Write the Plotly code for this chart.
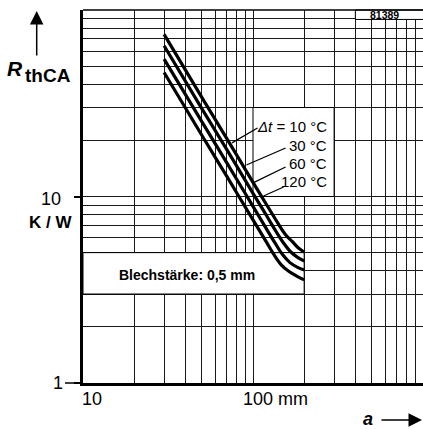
import math
import plotly.graph_objects as go

# ---------------- data ----------------
a_dt10 = [30, 50, 70, 100, 120, 140, 155, 170, 185, 200]
r_dt10 = [74.0, 34.0, 20.5, 11.9, 9.06, 7.2, 6.26, 5.74, 5.29, 5.04]
a_dt30 = [30, 50, 70, 100, 120, 137, 152, 167, 184, 200]
r_dt30 = [64.3, 29.6, 17.9, 10.4, 7.91, 6.47, 5.60, 5.04, 4.70, 4.51]
a_dt60 = [30, 50, 70, 100, 120, 135, 150, 165, 183, 200]
r_dt60 = [54.5, 25.2, 15.2, 8.85, 6.71, 5.62, 4.85, 4.42, 4.17, 4.04]
a_dt120 = [30, 50, 70, 100, 120, 132, 147, 163, 183, 200]
r_dt120 = [46.2, 21.3, 12.85, 7.50, 5.69, 4.92, 4.29, 3.96, 3.72, 3.57]

curve_labels = ["<i>Δt</i> = 10 °C", "30 °C", "60 °C", "120 °C"]

# leader lines (label end -> curve end), data coordinates
leader_x = [[106.3, 75.2], [155.5, 91.5], [155.5, 101.4], [151.4, 115.3]]
leader_y = [[23.3, 19.4], [18.2, 14.75], [14.4, 11.9], [11.24, 10.06]]

# white label boxes (data coordinates)
label_box_x = [100, 300]
label_box_y = [10, 30]
note_box_x = [10, 200]
note_box_y = [3, 5]
id_box_x = [400, 1000]
id_box_y = [89, 100]

x_major = [10, 100]
x_minor = [20, 30, 40, 50, 60, 70, 80, 90, 200, 300, 400, 500, 600, 700, 800, 900, 1000]
y_major = [1, 10]
y_minor = [2, 3, 4, 5, 6, 7, 8, 9, 20, 30, 40, 50, 60, 70, 80, 90, 100]

note_text = "Blechstärke: 0,5 mm"
id_text = "81389"

X_RANGE = [1, 3]
Y_RANGE = [0, 2]

# ---------------- layout helpers ----------------
W, H = 423, 429
ML, MR, MT, MB = 83, 0, 10, 46
PW, PH = W - ML - MR, H - MT - MB
FONT = "Liberation Sans, Arial, Helvetica, sans-serif"


def px(x):
    return (x - ML) / PW


def py(y):
    return (H - MB - y) / PH


def xpaper(v):
    return (math.log10(v) - X_RANGE[0]) / (X_RANGE[1] - X_RANGE[0])


def ypaper(v):
    return (math.log10(v) - Y_RANGE[0]) / (Y_RANGE[1] - Y_RANGE[0])


def box(xs, ys):
    return [xs[0], xs[1], xs[1], xs[0], xs[0]], [ys[0], ys[0], ys[1], ys[1], ys[0]]


fig = go.Figure()

for bx, by in [(label_box_x, label_box_y), (note_box_x, note_box_y)]:
    xx, yy = box(bx, by)
    fig.add_trace(go.Scatter(x=xx, y=yy, mode="lines", fill="toself", fillcolor="white",
                             line=dict(color="black", width=1), hoverinfo="skip", showlegend=False))

for a, r in [(a_dt10, r_dt10), (a_dt30, r_dt30), (a_dt60, r_dt60), (a_dt120, r_dt120)]:
    fig.add_trace(go.Scatter(x=a, y=r, mode="lines", line=dict(color="black", width=3.2, shape="spline"),
                             showlegend=False))

for lx, ly in zip(leader_x, leader_y):
    fig.add_trace(go.Scatter(x=lx, y=ly, mode="lines", line=dict(color="black", width=1.3),
                             showlegend=False, hoverinfo="skip"))

grid = "#1a1a1a"
fig.update_layout(
    width=W, height=H, autosize=False,
    margin=dict(l=ML, r=MR, t=MT, b=MB, pad=0),
    paper_bgcolor="white", plot_bgcolor="white",
    font=dict(family=FONT, color="black"),
    xaxis=dict(type="log", range=X_RANGE, tickvals=x_major, showticklabels=False, ticks="",
               showgrid=True, gridcolor=grid, gridwidth=1, zeroline=False,
               showline=True, linecolor="black", linewidth=2.5,
               minor=dict(tickvals=x_minor, showgrid=True, gridcolor=grid, gridwidth=1, ticks="")),
    yaxis=dict(type="log", range=Y_RANGE, tickvals=y_major, showticklabels=False,
               ticks="outside", ticklen=6, tickwidth=1.5, tickcolor="black",
               showgrid=True, gridcolor=grid, gridwidth=1, zeroline=False,
               showline=True, linecolor="black", linewidth=3,
               minor=dict(tickvals=y_minor, showgrid=True, gridcolor=grid, gridwidth=1, ticks="")),
)

# id box (top right corner)
fig.add_shape(type="rect", xref="paper", yref="paper", layer="above",
              x0=xpaper(id_box_x[0]), x1=xpaper(id_box_x[1]) + 0.01,
              y0=ypaper(id_box_y[0]), y1=ypaper(id_box_y[1]),
              fillcolor="white", line=dict(color="black", width=1))
# frame top + long tick at 1
fig.add_shape(type="line", xref="paper", yref="paper", x0=0, x1=1, y0=1, y1=1,
              line=dict(color="black", width=1.5))
fig.add_shape(type="line", xref="paper", yref="paper", x0=px(65), x1=0, y0=0, y1=0,
              line=dict(color="black", width=1.5))

ann = []


def text(t, x, y, size, xanchor="center", bold=False, italic=False):
    if bold:
        t = "<b>" + t + "</b>"
    if italic:
        t = "<i>" + t + "</i>"
    ann.append(dict(text=t, x=px(x), y=py(y), xref="paper", yref="paper", showarrow=False,
                    xanchor=xanchor, yanchor="middle", font=dict(size=size, family=FONT, color="black")))


# curve labels
for lbl, yy in zip(curve_labels, [126, 145, 163, 181]):
    text(lbl, 329, yy, 15, xanchor="right")

text(note_text, 187, 275, 14, bold=True)
text(id_text, 384, 14.5, 10.5, bold=True)

# axis labels
text("1", 65, 383.5, 18, xanchor="right")
text("10", 63, 198.5, 18, xanchor="right")
text("K / W", 50, 222.5, 17, bold=True)
text("10", 92, 399, 18)
text("100 mm", 241, 399, 18, xanchor="left")
text("a", 368, 419, 18, bold=True, italic=True)
text("R", 14.5, 68.5, 21, bold=True, italic=True)
text("thCA", 48, 75, 19, bold=True)

# arrows
ann.append(dict(text="", x=px(36.7), y=py(11), xref="paper", yref="paper", showarrow=True,
                ax=0, ay=46, arrowhead=2, arrowsize=1.8, arrowwidth=1.5, arrowcolor="black"))
ann.append(dict(text="", x=px(422), y=py(420), xref="paper", yref="paper", showarrow=True,
                ax=-42, ay=0, arrowhead=2, arrowsize=1.8, arrowwidth=1.5, arrowcolor="black"))

fig.update_layout(annotations=ann)

fig.write_html("out.html", config={"displayModeBar": False})
